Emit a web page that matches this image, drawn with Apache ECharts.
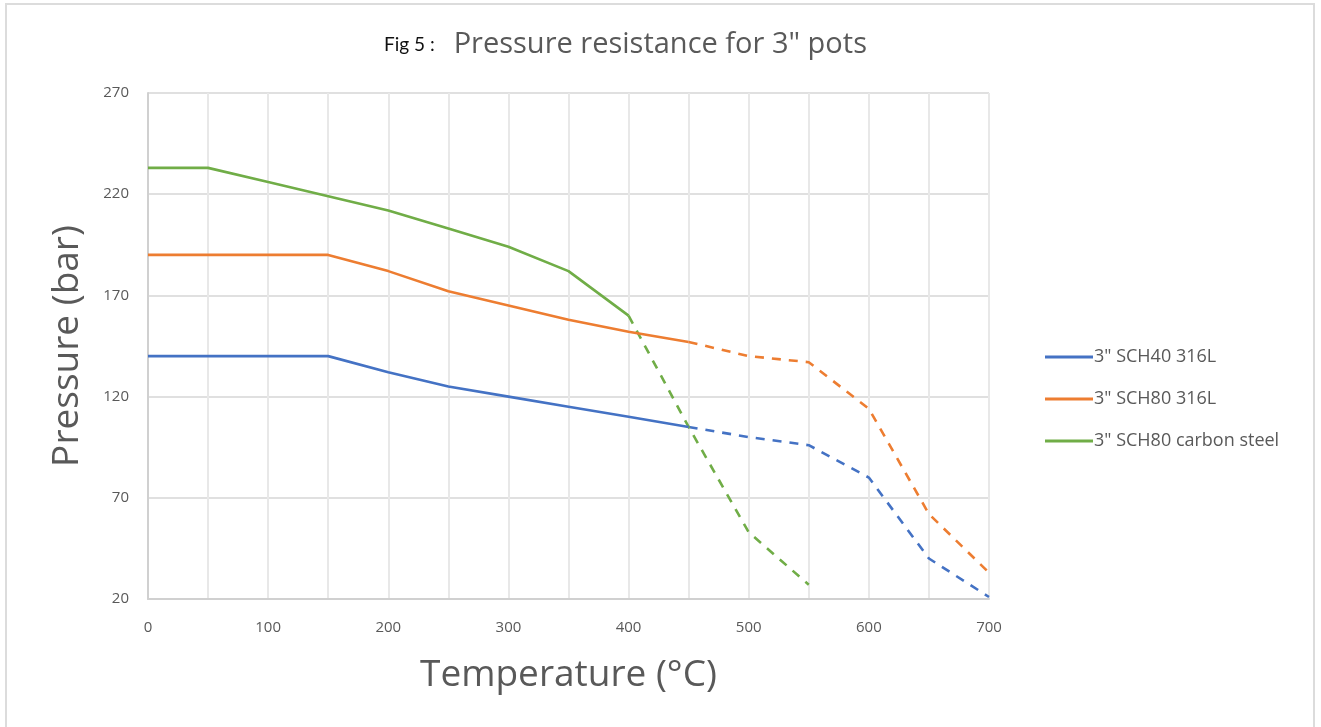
<!DOCTYPE html>
<html>
<head>
<meta charset="utf-8">
<script src="https://cdn.jsdelivr.net/npm/echarts@6/dist/echarts.min.js"></script>
<style>
html,body{margin:0;padding:0;background:#fff;}
#frame{position:absolute;left:5px;top:3px;width:1310px;height:740px;border:2px solid #dcdcdc;border-bottom:none;box-sizing:border-box;}
#chart{position:absolute;left:0;top:0;width:1321px;height:727px;}
</style>
</head>
<body>
<div id="frame"></div>
<div id="chart"></div>
<script>
// ---- data ----
const seriesNames = ['3" SCH40 316L', '3" SCH80 316L', '3" SCH80 carbon steel'];
const tempSolid316 = [0, 50, 100, 150, 200, 250, 300, 350, 400, 450];
const tempDashed316 = [450, 500, 550, 600, 650, 700];
const sch40Solid = [140, 140, 140, 140, 132, 125, 120, 115, 110, 105];
const sch40Dashed = [105, 100, 96, 80, 40, 21];
const sch80Solid = [190, 190, 190, 190, 182, 172, 165, 158, 152, 147];
const sch80Dashed = [147, 140, 137, 114, 62, 33];
const tempSolidCS = [0, 50, 100, 150, 200, 250, 300, 350, 400];
const tempDashedCS = [400, 450, 500, 550];
const csSolid = [233, 233, 226, 219, 212, 203, 194, 182, 160];
const csDashed = [160, 105, 53, 27];
const xTicks = [0, 100, 200, 300, 400, 500, 600, 700];
const yTicks = [20, 70, 120, 170, 220, 270];

const colors = ['#4472C4', '#ED7D31', '#70AD47'];
const pair = (xs, ys) => xs.map((x, i) => [x, ys[i]]);

function lineSeries(name, data, color, dashed) {
  return {
    name: name, type: 'line', data: data, symbol: 'none', showSymbol: false,
    lineStyle: { color: color, width: 2.6, type: dashed ? [9, 8] : 'solid' },
    itemStyle: { color: color },
    silent: true, animation: false, z: dashed ? 2 : 3
  };
}

const chart = echarts.init(document.getElementById('chart'));
chart.setOption({
  animation: false,
  title: {
    text: '{a|Fig 5 :}  {b|Pressure resistance for 3" pots}',
    left: 379, top: 25,
    textStyle: {
      fontWeight: 'normal',
      rich: {
        a: { fontFamily: 'Lato', fontSize: 19, fontWeight: 'normal', color: '#111' },
        b: { fontFamily: 'Open Sans', fontSize: 29, fontWeight: 'normal', color: '#595959', padding: [0, 0, 0, 9] }
      }
    }
  },
  legend: {
    data: seriesNames.map(n => ({ name: n, icon: 'rect' })),
    orient: 'vertical', left: 1040, top: 343,
    itemWidth: 48, itemHeight: 3, itemGap: 24,
    textStyle: { fontFamily: 'Open Sans', fontSize: 18, color: '#595959', padding: [0, 0, 0, -4], lineHeight: 18 }
  },
  grid: { left: 148, top: 93, width: 841, height: 506, containLabel: false },
  xAxis: {
    type: 'value', min: 0, max: 700, interval: 50,
    name: 'Temperature (°C)', nameLocation: 'middle', nameGap: 58,
    nameTextStyle: { fontFamily: 'Open Sans', fontSize: 37, color: '#595959' },
    axisLine: { show: true, lineStyle: { color: '#d0d0d0', width: 2 } },
    axisTick: { show: false },
    axisLabel: {
      fontFamily: 'Open Sans', fontSize: 15, color: '#595959', margin: 21,
      formatter: v => (xTicks.indexOf(v) >= 0 ? String(v) : '')
    },
    splitLine: { show: true, lineStyle: { color: '#e8e8e8', width: 2 } }
  },
  yAxis: {
    type: 'value', min: 20, max: 270, interval: 50,
    name: 'Pressure (bar)', nameLocation: 'middle', nameGap: 62,
    nameTextStyle: { fontFamily: 'Open Sans', fontSize: 37, color: '#595959' },
    axisLine: { show: true, lineStyle: { color: '#d0d0d0', width: 2 } },
    axisTick: { show: false },
    axisLabel: {
      fontFamily: 'Open Sans', fontSize: 15, color: '#595959', margin: 19,
      formatter: v => (yTicks.indexOf(v) >= 0 ? String(v) : '')
    },
    splitLine: { show: true, lineStyle: { color: '#e0e0e0', width: 2 } }
  },
  series: [
    lineSeries(seriesNames[0], pair(tempSolid316, sch40Solid), colors[0], false),
    lineSeries(seriesNames[1], pair(tempSolid316, sch80Solid), colors[1], false),
    lineSeries(seriesNames[2], pair(tempSolidCS, csSolid), colors[2], false),
    lineSeries(seriesNames[0], pair(tempDashed316, sch40Dashed), colors[0], true),
    lineSeries(seriesNames[1], pair(tempDashed316, sch80Dashed), colors[1], true),
    lineSeries(seriesNames[2], pair(tempDashedCS, csDashed), colors[2], true)
  ]
});
</script>
</body>
</html>
